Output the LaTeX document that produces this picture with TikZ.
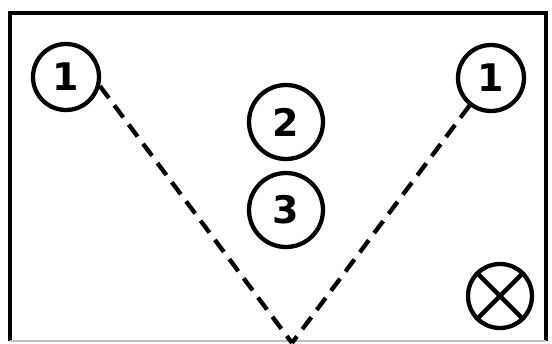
\documentclass[tikz,border=0pt]{standalone}
\usepackage{fontspec}
\setmainfont{DejaVu Sans}
\begin{document}
\begin{tikzpicture}[x=1pt,y=-1pt,
  numcirc/.style={circle,draw,line width=4.3pt,minimum size=66pt,inner sep=0pt,font=\fontsize{38}{38}\selectfont\bfseries},
  dashline/.style={line width=4.3pt,dash pattern=on 15pt off 9pt},
  frame/.style={line width=4.3pt}]
\useasboundingbox (0,0) rectangle (552,343);
\draw[frame] (10,341) -- (10,13) -- (546,13) -- (546,341);
\draw[line width=1.5pt,black!25] (10,341) -- (546,341);
\node[numcirc] (l1) at (66,77) {1};
\node[numcirc] (r1) at (491,78) {1};
\node[numcirc,minimum size=74pt] (c2) at (286,122) {2};
\node[numcirc,minimum size=74pt] (c3) at (286,210) {3};
\node[circle,draw,line width=4.3pt,minimum size=64pt,inner sep=0pt] (x) at (500,296) {};
\draw[line width=4.3pt] (x.45) -- (x.225) (x.135) -- (x.315);
\coordinate (v) at (292,343);
\draw[dashline] (l1.-15) -- (v);
\draw[dashline] (r1.-128) -- (v);
\end{tikzpicture}
\end{document}
